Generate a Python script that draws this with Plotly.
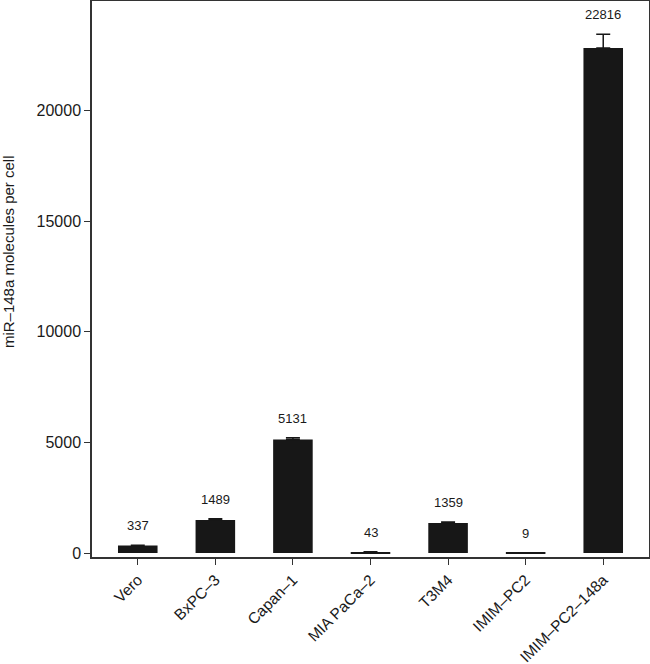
import plotly.graph_objects as go

categories = ["Vero", "BxPC–3", "Capan–1", "MIA PaCa–2", "T3M4", "IMIM–PC2", "IMIM–PC2–148a"]
values = [337, 1489, 5131, 43, 1359, 9, 22816]
errors = [15, 60, 80, 10, 45, 4, 620]
y_ticks = [0, 5000, 10000, 15000, 20000]

FONT = "Liberation Sans, Arial, Helvetica, sans-serif"
INK = "#1a1a1a"
x = list(range(len(categories)))

fig = go.Figure()
fig.add_trace(go.Bar(
    x=x, y=values, width=0.51,
    marker=dict(color="#171717", line=dict(width=0)),
    error_y=dict(type="data", array=errors, arrayminus=[0]*len(errors), symmetric=False,
                 color="#171717", thickness=1.5, width=7),
    showlegend=False,
))
for xi, v, e in zip(x, values, errors):
    fig.add_annotation(x=xi, y=v + e, text=str(v), showarrow=False, yanchor="bottom",
                       yshift=10, font=dict(family=FONT, size=13, color=INK))

fig.add_annotation(xref="paper", yref="paper", x=-0.151, y=0.55, text="miR–148a molecules per cell",
                   textangle=-90, showarrow=False, xanchor="center", yanchor="middle",
                   font=dict(family=FONT, size=15, color=INK))

fig.update_layout(
    width=650, height=664,
    margin=dict(l=92, r=1, t=1, b=107),
    plot_bgcolor="white", paper_bgcolor="white",
    font=dict(family=FONT, size=16, color=INK),
)
fig.update_xaxes(
    range=[-0.59, 6.59], tickmode="array", tickvals=x, ticktext=categories, tickangle=-45,
    showline=True, mirror=True, linecolor="#333", linewidth=1.5,
    ticks="outside", ticklen=6, tickwidth=1.2, tickcolor="#333",
    showgrid=False, zeroline=False, tickfont=dict(size=15.5), automargin=False,
)
fig.update_yaxes(
    range=[-180, 24940], tickvals=y_ticks, ticktext=[str(t) for t in y_ticks],
    showline=True, mirror=True, linecolor="#333", linewidth=1.5,
    ticks="outside", ticklen=6, tickwidth=1.2, tickcolor="#333",
    showgrid=False, zeroline=False, tickfont=dict(size=16), automargin=False,
)
fig.write_html("out.html", config={"displayModeBar": False},
               post_script="document.body.style.margin='0px';")
